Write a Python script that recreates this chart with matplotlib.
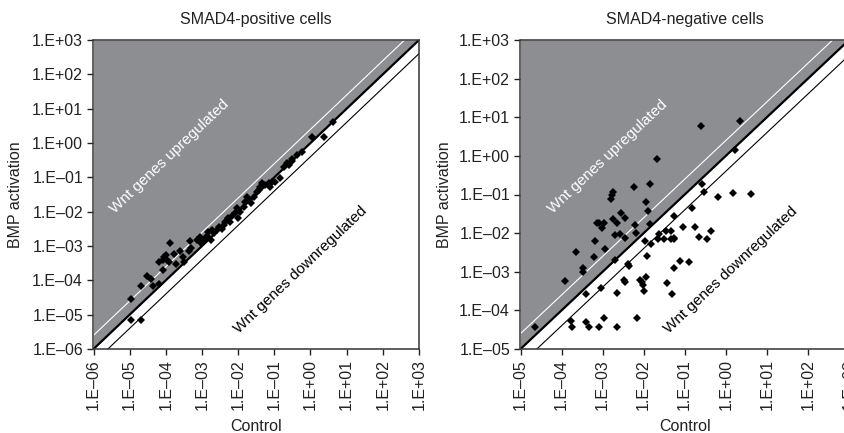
import numpy as np
import matplotlib
matplotlib.use("Agg")
import matplotlib.pyplot as plt

plt.rcParams['font.family'] = ['Liberation Sans', 'DejaVu Sans']

# SMAD4-positive cells: control vs BMP activation
pos_ctrl = [1.07e-5, 2.1e-5, 1.07e-5, 2.1e-5, 2.95e-5, 3.8e-5, 4.3e-5, 6.3e-5, 8.1e-5, 1.32e-4,
            6.5e-5, 8.1e-5, 8.9e-5, 1.0e-4, 1.1e-4, 1.23e-4, 1.7e-4, 1.95e-4, 2.5e-4, 2.9e-4,
            3.2e-4, 4.5e-4, 4.9e-4, 4.7e-4, 9.3e-4, 1.15e-3, 1.4e-3, 1.78e-3,
            7.2e-4, 8.9e-4, 1.1e-3, 1.38e-3, 1.5e-3, 1.86e-3, 2.1e-3, 2.6e-3, 2.9e-3, 3.5e-3,
            4.0e-3, 4.4e-3, 5.4e-3, 6.0e-3, 6.8e-3, 8.3e-3, 9.3e-3, 1.02e-2, 1.15e-2, 1.41e-2,
            1.58e-2, 1.74e-2, 1.95e-2, 2.2e-2, 2.7e-2, 3.3e-2, 3.7e-2, 4.1e-2, 4.6e-2, 5.6e-2,
            6.9e-2, 7.8e-2, 8.7e-2, 0.107, 0.148, 0.18, 0.22, 0.25, 0.31, 0.43, 0.59,
            4.3, 2.3, 1.1, 0.31]
pos_bmp = [6.9e-6, 6.9e-6, 2.9e-5, 6.9e-5, 1.35e-4, 1.1e-4, 6.8e-5, 7.8e-5, 2.0e-4, 1.26e-3,
           3.5e-4, 3.9e-4, 4.9e-4, 5.5e-4, 3.9e-4, 3.5e-4, 5.9e-4, 2.95e-4, 7.2e-4, 4.9e-4,
           3.5e-4, 7.2e-4, 8.5e-4, 1.4e-3, 1.2e-3, 1.5e-3, 1.66e-3, 1.5e-3,
           1.48e-3, 1.78e-3, 1.35e-3, 1.95e-3, 2.6e-3, 2.95e-3, 2.35e-3, 2.95e-3, 3.5e-3, 3.1e-3,
           4.1e-3, 5.1e-3, 6.5e-3, 5.1e-3, 7.4e-3, 8.9e-3, 1.26e-2, 6.5e-3, 1.0e-2, 1.38e-2,
           1.95e-2, 2.75e-2, 2.2e-2, 1.74e-2, 2.75e-2, 3.8e-2, 4.3e-2, 5.4e-2, 6.8e-2, 6.0e-2,
           6.8e-2, 5.4e-2, 7.4e-2, 0.074, 0.093, 0.2, 0.26, 0.23, 0.29, 0.45, 0.56,
           4.2, 1.5, 1.5, 0.35]

# SMAD4-negative cells
neg_ctrl = [0.25, 2.2, 1.7, 0.021, 5.9e-3, 0.0145, 1.58e-3, 1.7e-3, 1.82e-3, 0.0117,
            0.0129, 2.8e-3, 0.27, 0.30, 0.66, 1.48, 4.0, 0.15, 0.054, 3.5e-3,
            1.74e-3, 2.3e-3, 7.2e-4, 8.3e-4, 1.1e-3, 9.5e-4, 6.2e-3, 0.0145, 2.7e-3, 1.95e-3,
            6.5e-3, 3.6e-3, 6.6e-4, 0.0105, 0.015, 0.024, 0.0224, 0.032, 0.035, 0.046,
            0.045, 0.055, 0.055, 0.091, 0.18, 0.22, 0.35, 0.44, 1.17e-3, 6.0e-4,
            1.95e-3, 2.2e-4, 3.4e-4, 3.4e-4, 1.23e-4, 4.1e-3, 4.5e-3, 0.012, 0.078, 0.13,
            0.054, 3.3e-3, 3.5e-3, 8.1e-3, 9.1e-3, 9.5e-3, 0.0115, 0.037, 4.0e-4, 9.1e-4,
            2.2e-3, 0.01, 0.049, 2.3e-5, 1.66e-4, 1.78e-4, 4.0e-4, 4.7e-4, 8.1e-4, 1.1e-3,
            2.3e-3, 6.8e-3]
neg_bmp = [5.8, 7.8, 1.38, 0.85, 0.155, 0.19, 0.078, 0.098, 0.117, 0.065,
           0.038, 0.034, 0.19, 0.117, 0.085, 0.107, 0.105, 0.045, 0.028, 0.0245,
           0.0234, 0.018, 0.018, 0.0186, 0.018, 0.0135, 0.016, 0.017, 9.3e-3, 8.7e-3,
           0.01, 7.6e-3, 6.3e-3, 6.3e-3, 5.1e-3, 9.3e-3, 6.9e-3, 6.9e-3, 0.0115, 0.0115,
           6.9e-3, 7.6e-3, 6.9e-3, 0.0148, 0.0148, 7.8e-3, 6.9e-3, 0.0115, 3.8e-3, 2.35e-3,
           2.0e-3, 3.3e-3, 1.23e-3, 1.0e-3, 5.8e-4, 1.55e-3, 1.4e-3, 2.6e-3, 1.95e-3, 1.8e-3,
           1.23e-3, 6.2e-4, 5.5e-4, 6.2e-4, 5.5e-4, 4.6e-4, 7.1e-4, 5.2e-4, 2.6e-4, 3.7e-4,
           2.9e-4, 3.2e-4, 2.6e-4, 3.8e-5, 5.4e-5, 3.8e-5, 4.9e-5, 3.8e-5, 3.8e-5, 6.5e-5,
           3.8e-5, 6.3e-5]

fold = 2.5
gray = '#8d8e92'
fs = 11.5

fig = plt.figure(figsize=(8.45, 4.33), dpi=100)
W, H = 845.0, 433.0
ax1 = fig.add_axes([93.5 / W, (H - 349) / H, (419 - 93.5) / W, 309 / H])
ax2 = fig.add_axes([520.5 / W, (H - 349) / H, (849 - 520.5) / W, 309 / H])


def fmt(e):
    sign = '+' if e >= 0 else '\u2013'
    return '1.E%s%02d' % (sign, abs(e))


def draw(ax, lo, ctrl, bmp, title, up_xy, down_xy, ang):
    hi = 1e3
    xs = np.array([lo, hi])
    ax.fill_between(xs, xs, hi, color=gray, lw=0, zorder=1)
    ax.plot(xs, xs * fold, color='white', lw=0.8, zorder=2)
    ax.plot(xs, xs / fold, color='black', lw=0.8, zorder=2)
    ax.plot(xs, xs, color='black', lw=1.6, zorder=3)
    ax.plot(ctrl, bmp, 'D', color='black', ms=3.8, mew=0, zorder=4)
    ax.set_xscale('log')
    ax.set_yscale('log')
    ax.set_xlim(lo, hi)
    ax.set_ylim(lo, hi)
    exps = list(range(int(round(np.log10(lo))), 4))
    ticks = [10.0 ** e for e in exps]
    ax.set_xticks(ticks)
    ax.set_yticks(ticks)
    ax.set_xticklabels([fmt(e) for e in exps], rotation=90, fontsize=fs)
    ax.set_yticklabels([fmt(e) for e in exps], fontsize=fs)
    ax.minorticks_off()
    ax.tick_params(direction='out', length=4, width=1, color='#222222', labelcolor='#222222')
    for s in ax.spines.values():
        s.set_linewidth(1.1)
        s.set_color('#333333')
        s.set_zorder(5)
    ax.text(0.5, 1 + 20 / 309, title, transform=ax.transAxes, ha='center', va='center',
            fontsize=fs, color='#222222')
    ax.set_xlabel('Control', fontsize=fs, color='#222222')
    ax.set_ylabel('BMP activation', fontsize=fs, color='#222222')
    ax.xaxis.set_label_coords(0.5, -0.227)
    ax.text(up_xy[0], up_xy[1], 'Wnt genes upregulated', rotation=ang, rotation_mode='anchor',
            ha='center', va='center', color='white', fontsize=11, zorder=6)
    ax.text(down_xy[0], down_xy[1], 'Wnt genes downregulated', rotation=ang,
            rotation_mode='anchor', ha='center', va='center', color='black', fontsize=11, zorder=6)


draw(ax1, 1e-6, pos_ctrl, pos_bmp, 'SMAD4-positive cells', (1.3e-4, 0.39), (0.52, 2e-4), 43.5)
draw(ax2, 1e-5, neg_ctrl, neg_bmp, 'SMAD4-negative cells', (1.3e-3, 0.93), (1.35, 1.1e-3), 43.3)
ax1.yaxis.set_label_coords(-0.216, 0.5)
ax2.yaxis.set_label_coords(-0.209, 0.5)

fig.savefig('out.png', dpi=100)
